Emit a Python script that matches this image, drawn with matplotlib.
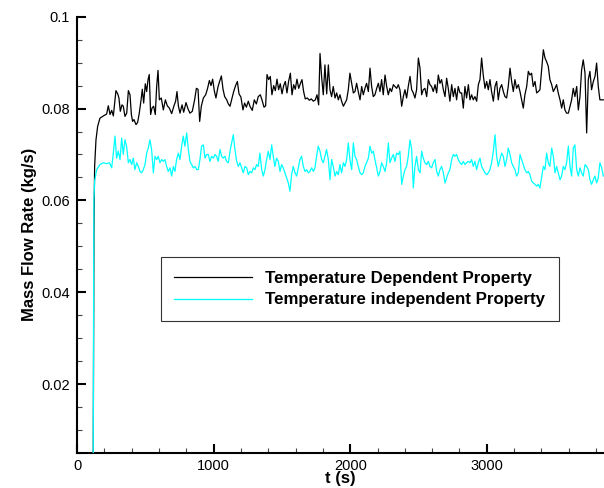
import numpy as np
import matplotlib
matplotlib.use("Agg")
import matplotlib.pyplot as plt
from matplotlib.ticker import MultipleLocator

plt.rcParams['font.family'] = ['Liberation Sans', 'DejaVu Sans']

# ------------------------------------------------------------
# Temperature dependent property (black), start-up + t < 1850 s
# ------------------------------------------------------------
t_dep_early = [119, 124, 129, 139, 151, 168, 193, 217, 229, 242, 254, 266, 285, 298, 307,
               317, 329, 339, 351, 364, 376, 388, 398, 407, 417, 432, 444, 456, 469, 478,
               488, 500, 510, 520, 529, 539, 549, 561, 573, 583, 593, 603, 617, 632, 647,
               661, 676, 693, 710, 722, 732, 742, 754, 769, 781, 798, 813, 827, 844, 861,
               874, 886, 898, 910, 925, 942, 956, 969, 981, 993, 1005, 1017, 1032, 1044, 1057,
               1069, 1081, 1096, 1108, 1120, 1132, 1147, 1161, 1174, 1186, 1200, 1215, 1227, 1240, 1254,
               1266, 1283, 1298, 1313, 1327, 1342, 1354, 1369, 1381, 1391, 1403, 1415, 1427, 1440, 1452,
               1464, 1476, 1488, 1501, 1513, 1525, 1537, 1549, 1562, 1574, 1586, 1598, 1610, 1623, 1635,
               1647, 1659, 1671, 1686, 1701, 1715, 1730, 1745, 1757, 1769, 1779, 1791, 1803, 1815, 1828,
               1840]
m_dep_early = [0.005, 0.053, 0.0674, 0.0732, 0.0761, 0.0779, 0.0784, 0.0788, 0.0806, 0.0787,
               0.0796, 0.0784, 0.0839, 0.0832, 0.0823, 0.0794, 0.0808, 0.0805, 0.0783, 0.0790,
               0.0839, 0.0830, 0.0787, 0.0772, 0.0776, 0.0765, 0.0770, 0.0790, 0.0819, 0.0842,
               0.0812, 0.0854, 0.0837, 0.0863, 0.0874, 0.0787, 0.0801, 0.0805, 0.0787, 0.0847,
               0.0883, 0.0819, 0.0823, 0.0797, 0.0819, 0.0806, 0.0801, 0.0789, 0.0806, 0.0816,
               0.0837, 0.0806, 0.0790, 0.0808, 0.0792, 0.0813, 0.0799, 0.0790, 0.0794, 0.0819,
               0.0844, 0.0842, 0.0772, 0.0805, 0.0823, 0.0830, 0.0844, 0.0861, 0.0850, 0.0864,
               0.0839, 0.0823, 0.0847, 0.0859, 0.0871, 0.0842, 0.0826, 0.0819, 0.0810, 0.0805,
               0.0819, 0.0837, 0.0850, 0.0859, 0.0832, 0.0825, 0.0797, 0.0812, 0.0803, 0.0816,
               0.0805, 0.0796, 0.0819, 0.0810, 0.0826, 0.0830, 0.0819, 0.0803, 0.0806, 0.0874,
               0.0863, 0.0870, 0.0830, 0.0850, 0.0839, 0.0864, 0.0841, 0.0854, 0.0832, 0.0850,
               0.0859, 0.0834, 0.0859, 0.0877, 0.0830, 0.0852, 0.0842, 0.0864, 0.0844, 0.0854,
               0.0863, 0.0837, 0.0821, 0.0823, 0.0818, 0.0821, 0.0816, 0.0819, 0.0830, 0.0808,
               0.0920, 0.0868, 0.0830, 0.0895, 0.0832, 0.0895]

# ------------------------------------------------------------
# Temperature independent property (cyan), start-up + t < 1850 s
# ------------------------------------------------------------
t_ind_early = [119, 122, 124, 129, 144, 168, 193, 217, 237,
               254, 266, 278, 290, 302, 315, 327, 339, 351, 363, 376, 388, 400, 412, 424,
               437, 449, 461, 473, 485, 498, 510, 522, 534, 546, 559, 571, 583, 595, 607,
               620, 632, 644, 656, 668, 681, 693, 705, 717, 729, 742, 754, 766, 778, 790,
               803, 815, 827, 839, 851, 864, 876, 888, 900, 912, 925, 937, 949, 961, 973,
               986, 998, 1010, 1022, 1034, 1047, 1059, 1071, 1083, 1095, 1108, 1120, 1132, 1144, 1156,
               1169, 1181, 1193, 1205, 1217, 1230, 1242, 1254, 1266, 1278, 1291, 1303, 1315, 1327, 1339,
               1352, 1364, 1376, 1388, 1400, 1413, 1425, 1437, 1449, 1461, 1474, 1486, 1498, 1510, 1522,
               1535, 1547, 1559, 1571, 1583, 1596, 1608, 1620, 1632, 1644, 1657, 1669, 1681, 1693, 1705,
               1718, 1730, 1742, 1754, 1766, 1779, 1791, 1803, 1815, 1827, 1840]
m_ind_early = [0.005, 0.0457, 0.0602, 0.0642, 0.0667, 0.0678, 0.0682, 0.0680, 0.0682,
               0.0671, 0.0703, 0.0740, 0.0692, 0.0707, 0.0689, 0.0736, 0.0700, 0.0732, 0.0718,
               0.0682, 0.0689, 0.0678, 0.0692, 0.0667, 0.0682, 0.0674, 0.0663, 0.0660, 0.0667,
               0.0678, 0.0703, 0.0714, 0.0732, 0.0711, 0.0660, 0.0696, 0.0689, 0.0696, 0.0682,
               0.0689, 0.0685, 0.0689, 0.0674, 0.0663, 0.0671, 0.0653, 0.0674, 0.0663, 0.0689,
               0.0703, 0.0689, 0.0718, 0.0740, 0.0718, 0.0747, 0.0711, 0.0685, 0.0678, 0.0671,
               0.0674, 0.0667, 0.0667, 0.0689, 0.0718, 0.0721, 0.0692, 0.0700, 0.0700, 0.0685,
               0.0696, 0.0692, 0.0700, 0.0696, 0.0685, 0.0711, 0.0696, 0.0692, 0.0696, 0.0685,
               0.0682, 0.0707, 0.0725, 0.0743, 0.0711, 0.0685, 0.0674, 0.0682, 0.0671, 0.0660,
               0.0674, 0.0671, 0.0656, 0.0663, 0.0660, 0.0671, 0.0667, 0.0678, 0.0674, 0.0703,
               0.0667, 0.0653, 0.0667, 0.0689, 0.0707, 0.0689, 0.0721, 0.0696, 0.0674, 0.0692,
               0.0685, 0.0663, 0.0678, 0.0671, 0.0660, 0.0649, 0.0638, 0.0620, 0.0656, 0.0674,
               0.0660, 0.0653, 0.0671, 0.0689, 0.0696, 0.0674, 0.0663, 0.0667, 0.0660, 0.0663,
               0.0671, 0.0663, 0.0671, 0.0696, 0.0718, 0.0707, 0.0689, 0.0682, 0.0696, 0.0711,
               0.0689]

# ------------------------------------------------------------
# Both runs, t > 1850 s (same output times)
# ------------------------------------------------------------
t_late = [1852, 1864, 1876, 1889, 1901, 1913, 1925, 1937, 1950, 1962, 1974, 1986, 1998, 2011, 2023,
          2035, 2047, 2059, 2072, 2084, 2096, 2108, 2120, 2133, 2145, 2157, 2169, 2181, 2194, 2206,
          2218, 2230, 2242, 2255, 2267, 2279, 2291, 2303, 2316, 2328, 2340, 2352, 2364, 2377, 2389,
          2401, 2413, 2425, 2438, 2450, 2462, 2474, 2486, 2499, 2511, 2523, 2535, 2547, 2560, 2572,
          2584, 2596, 2608, 2621, 2633, 2645, 2657, 2669, 2682, 2694, 2706, 2718, 2730, 2743, 2755,
          2767, 2779, 2791, 2804, 2816, 2828, 2840, 2852, 2865, 2877, 2889, 2901, 2913, 2926, 2938,
          2950, 2962, 2974, 2987, 2999, 3011, 3023, 3035, 3048, 3060, 3072, 3084, 3096, 3109, 3121,
          3133, 3145, 3157, 3170, 3182, 3194, 3206, 3218, 3231, 3243, 3255, 3267, 3279, 3292, 3304,
          3316, 3328, 3340, 3353, 3365, 3377, 3389, 3401, 3414, 3426, 3438, 3450, 3462, 3475, 3487,
          3499, 3511, 3523, 3536, 3548, 3560, 3572, 3584, 3597, 3609, 3621, 3633, 3645, 3658, 3670,
          3682, 3694, 3706, 3719, 3731, 3743, 3755, 3767, 3780, 3792, 3804, 3816, 3828, 3841, 3853]
m_dep_late = [0.0841, 0.0826, 0.0848, 0.0823, 0.0834, 0.0819, 0.0830, 0.0816, 0.0805, 0.0812,
              0.0819, 0.0841, 0.0877, 0.0855, 0.0834, 0.0837, 0.0855, 0.0837, 0.0819, 0.0848,
              0.0830, 0.0844, 0.0855, 0.0837, 0.0888, 0.0848, 0.0826, 0.0830, 0.0844, 0.0855,
              0.0837, 0.0863, 0.0830, 0.0873, 0.0848, 0.0830, 0.0844, 0.0837, 0.0852, 0.0848,
              0.0844, 0.0852, 0.0841, 0.0805, 0.0826, 0.0841, 0.0823, 0.0848, 0.0870, 0.0841,
              0.0834, 0.0823, 0.0841, 0.0910, 0.0888, 0.0830, 0.0841, 0.0844, 0.0826, 0.0863,
              0.0852, 0.0848, 0.0837, 0.0852, 0.0834, 0.0873, 0.0855, 0.0863, 0.0841, 0.0826,
              0.0866, 0.0844, 0.0816, 0.0852, 0.0826, 0.0844, 0.0819, 0.0848, 0.0834, 0.0834,
              0.0801, 0.0848, 0.0823, 0.0852, 0.0819, 0.0830, 0.0819, 0.0826, 0.0816, 0.0852,
              0.0863, 0.0910, 0.0873, 0.0844, 0.0859, 0.0841, 0.0863, 0.0837, 0.0816, 0.0848,
              0.0859, 0.0819, 0.0844, 0.0852, 0.0837, 0.0826, 0.0823, 0.0848, 0.0888, 0.0859,
              0.0837, 0.0863, 0.0844, 0.0852, 0.0837, 0.0819, 0.0801, 0.0830, 0.0848, 0.0881,
              0.0873, 0.0877, 0.0848, 0.0859, 0.0834, 0.0837, 0.0841, 0.0884, 0.0928, 0.0910,
              0.0902, 0.0892, 0.0863, 0.0852, 0.0837, 0.0844, 0.0852, 0.0834, 0.0819, 0.0801,
              0.0819, 0.0797, 0.0790, 0.0790, 0.0805, 0.0819, 0.0844, 0.0826, 0.0848, 0.0797,
              0.0826, 0.0884, 0.0906, 0.0877, 0.0747, 0.0863, 0.0881, 0.0841, 0.0859, 0.0870,
              0.0899, 0.0848, 0.0819, 0.0819, 0.0819]
m_ind_late = [0.0645, 0.0689, 0.0674, 0.0653, 0.0663, 0.0656, 0.0678, 0.0660, 0.0682, 0.0674,
              0.0689, 0.0725, 0.0689, 0.0667, 0.0725, 0.0696, 0.0689, 0.0674, 0.0660, 0.0656,
              0.0660, 0.0674, 0.0682, 0.0692, 0.0718, 0.0703, 0.0707, 0.0689, 0.0671, 0.0653,
              0.0663, 0.0682, 0.0674, 0.0663, 0.0682, 0.0725, 0.0682, 0.0692, 0.0700, 0.0685,
              0.0703, 0.0700, 0.0707, 0.0635, 0.0653, 0.0667, 0.0674, 0.0696, 0.0732, 0.0711,
              0.0627, 0.0674, 0.0696, 0.0667, 0.0660, 0.0707, 0.0692, 0.0682, 0.0678, 0.0685,
              0.0674, 0.0671, 0.0682, 0.0689, 0.0663, 0.0653, 0.0667, 0.0674, 0.0660, 0.0638,
              0.0649, 0.0660, 0.0667, 0.0689, 0.0700, 0.0696, 0.0700, 0.0689, 0.0682, 0.0678,
              0.0685, 0.0678, 0.0682, 0.0685, 0.0682, 0.0689, 0.0674, 0.0685, 0.0667, 0.0682,
              0.0692, 0.0674, 0.0667, 0.0660, 0.0656, 0.0660, 0.0667, 0.0682, 0.0707, 0.0743,
              0.0696, 0.0674, 0.0689, 0.0703, 0.0696, 0.0674, 0.0689, 0.0714, 0.0700, 0.0682,
              0.0674, 0.0667, 0.0653, 0.0660, 0.0700, 0.0689, 0.0678, 0.0667, 0.0660, 0.0663,
              0.0656, 0.0642, 0.0638, 0.0635, 0.0631, 0.0635, 0.0627, 0.0649, 0.0674, 0.0667,
              0.0703, 0.0682, 0.0674, 0.0714, 0.0696, 0.0660, 0.0674, 0.0660, 0.0645, 0.0653,
              0.0674, 0.0667, 0.0682, 0.0718, 0.0674, 0.0653, 0.0714, 0.0721, 0.0667, 0.0653,
              0.0671, 0.0660, 0.0653, 0.0678, 0.0674, 0.0667, 0.0645, 0.0635, 0.0645, 0.0653,
              0.0638, 0.0649, 0.0682, 0.0671, 0.0653]

t_dep = np.array(t_dep_early + t_late)
m_dep = np.array(m_dep_early + m_dep_late)
t_ind = np.array(t_ind_early + t_late)
m_ind = np.array(m_ind_early + m_ind_late)

fig = plt.figure(figsize=(6.04, 4.88), dpi=100)
ax = fig.add_axes([77/604, 35/488, 527/604, 436.3/488])

ax.plot(t_dep, m_dep, color='black', lw=0.9, label='Temperature Dependent Property', zorder=2)
ax.plot(t_ind, m_ind, color='#00FFFF', lw=0.9, label='Temperature independent Property', zorder=3)

ax.set_xlim(0, 3858)
ax.set_ylim(0.005, 0.1)

ax.spines['top'].set_visible(False)
ax.spines['right'].set_visible(False)
ax.spines['left'].set_linewidth(1.5)
ax.spines['bottom'].set_linewidth(1.5)

ax.xaxis.set_major_locator(MultipleLocator(1000))
ax.xaxis.set_minor_locator(MultipleLocator(200))
ax.yaxis.set_major_locator(MultipleLocator(0.02))
ax.yaxis.set_minor_locator(MultipleLocator(0.005))
ax.yaxis.set_major_formatter(plt.FuncFormatter(lambda v, p: f"{v:g}"))

ax.tick_params(which='major', direction='in', length=6.5, width=1.5, labelsize=10.5,
               pad=5, colors='black')
ax.tick_params(which='minor', direction='in', length=3.6, width=0.8, color='#444444')
ax.tick_params(axis='x', which='major', pad=4)

ax.set_xlabel('t (s)', fontsize=12, fontweight='bold', labelpad=-1)
ax.set_ylabel('Mass Flow Rate (kg/s)', fontsize=12, fontweight='bold', labelpad=3)

leg = ax.legend(loc='upper left', bbox_to_anchor=(0.159, 0.449),
                prop={'weight': 'bold', 'size': 12.2}, frameon=True, fancybox=False,
                handlelength=4.6, handletextpad=0.75, borderpad=0.8, labelspacing=0.4,
                borderaxespad=0)
leg.get_frame().set_edgecolor('black')
leg.get_frame().set_linewidth(0.8)

fig.savefig('out.png', dpi=100)
